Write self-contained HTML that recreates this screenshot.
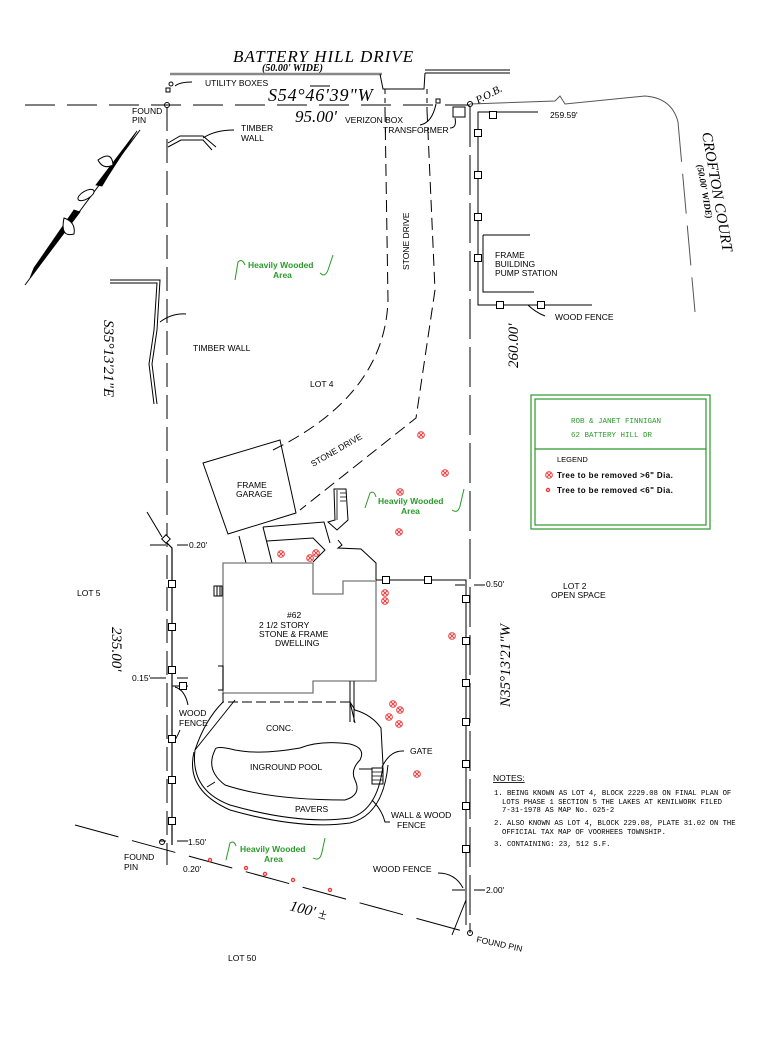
<!DOCTYPE html>
<html><head><meta charset="utf-8"><style>
html,body{margin:0;padding:0;background:#fff}
svg{display:block}
.t{font-family:"Liberation Sans",sans-serif;font-size:8.5px;fill:#000}
.g{font-family:"Liberation Sans",sans-serif;font-size:8.5px;fill:#2a9a2a;font-weight:bold}
.it{font-family:"Liberation Serif",serif;font-style:italic;fill:#000}
</style></head><body>
<svg width="782" height="1044" viewBox="0 0 782 1044" xmlns="http://www.w3.org/2000/svg">
<defs>
<g id="tb"><circle r="3.3" fill="none" stroke="#e33" stroke-width="1"/><path d="M-2,-2L2,2M-2,2L2,-2" stroke="#e33" stroke-width="0.9"/></g>
<g id="ts"><circle r="2.2" fill="#e33"/><circle r="0.9" fill="#fff"/></g>
<rect id="sq" x="-3.5" y="-3.5" width="7" height="7" fill="#fff" stroke="#000" stroke-width="1"/>
</defs>
<g fill="none" stroke="#000" stroke-width="1">
<!-- road -->
<line x1="170" y1="74" x2="382" y2="74" stroke="#888" stroke-width="2.5"/>
<line x1="425" y1="73" x2="510" y2="73"/>
<line x1="425" y1="70" x2="510" y2="70"/>
<path d="M380,74 L383,89 L424,89 L425,73"/>
<line x1="385" y1="89" x2="385" y2="110" stroke-dasharray="5,4"/>
<line x1="427" y1="89" x2="427" y2="110" stroke-dasharray="5,4"/>
<!-- top lot line -->
<line x1="25" y1="105" x2="470" y2="105" stroke-dasharray="30,12"/>
<path d="M470,104 L555,101 L560,96 L565,104 L645,96 Q672,98 678,122" stroke="#555"/>
<line x1="678" y1="122" x2="695" y2="312" stroke="#555" stroke-dasharray="40,12"/>
<circle cx="167" cy="105" r="2.5"/><circle cx="470" cy="104" r="2.5"/>
<circle cx="171" cy="84" r="2"/><rect x="166" y="88" width="4" height="4"/>
<path d="M175,86 Q180,82 192,82"/>
<!-- left boundary -->
<line x1="167" y1="107" x2="167" y2="865" stroke-dasharray="24,8"/>
<!-- right boundary -->
<line x1="470" y1="107" x2="470" y2="933" stroke-dasharray="40,8"/>
<!-- bottom -->
<line x1="75" y1="825" x2="470" y2="933" stroke-dasharray="45,14"/>
<circle cx="162" cy="842" r="2.5"/><circle cx="470" cy="933" r="2.5"/>
<!-- timber walls -->
<path d="M168,143 L180,136 L203,136 L216,147 M168,147 L181,140 L203,140 L212,150"/>
<path d="M203,138 Q215,130 234,130"/>
<path d="M110,280 L160,280 L157,330 L152,364 L157,404 M110,283 L157,283 L154,330 L149,364 L154,404"/>
<path d="M160,322 Q172,313 186,314"/>
<!-- verizon / transformer -->
<rect x="436" y="99" width="4" height="4"/>
<path d="M420,125 Q432,123 436,104"/>
<rect x="453" y="107" width="12" height="10"/>
<path d="M450,128 Q457,128 455,118"/>
<!-- stone drive -->
<path d="M385,110 L388,300 Q385,395 273,450" stroke-dasharray="12,6"/>
<path d="M427,110 L435,290 L416,418 L300,510" stroke-dasharray="12,6"/>
<!-- top-right fence / pump -->
<path d="M538,112 L478,112 L478,305 L592,305"/>
<path d="M483,235 L530,235 M483,235 L483,292 L534,292"/>
<path d="M528,305 Q535,312 545,316"/>
<!-- garage -->
<path d="M203,463 L280,440 L296,513 L228,534 Z"/>
<line x1="239" y1="536" x2="246" y2="563"/><line x1="263" y1="527" x2="272" y2="563"/>
<path d="M263,527 L324,522 L330,543 M267,541 L313,538 L325,550 L313,562"/>
<path d="M334,489 L346,489 L348,520 L337,530 L328,522 L335,520 Z" />
<path d="M337,490 L337,520 M340,493 L346,493 M340,497 L346,497 M340,501 L346,501" stroke-width="0.8"/>
<path d="M338,540 L342,545 L338,548 L361,549 L376,563 L376,580"/>
<!-- house -->
<path d="M223,563 L313,563 L313,594 L343,594 L343,581 L376,581 L376,681 L313,681 L313,693 L223,693 Z" stroke="#777" stroke-width="1.3"/>
<rect x="214" y="586" width="8" height="10"/>
<line x1="217" y1="586" x2="217" y2="596"/><line x1="220" y1="586" x2="220" y2="596"/>
<path d="M223,693 L223,702 L350,702 L350,681" stroke-dasharray="10,4"/>
<path d="M218,666 L223,666 L223,690 L218,690"/>
<!-- pool -->
<path d="M223,702 Q205,720 195,750 Q190,790 230,805 Q300,825 350,818 Q378,810 383,765 L381,728 Q372,715 355,710 L350,702"/>
<path d="M194,752 Q185,790 230,810 Q300,830 350,823 Q383,815 388,765"/>
<path d="M195,750 L235,700 M350,702 L355,723"/>
<path d="M215,750 Q205,770 225,785 Q270,800 345,800 Q362,795 355,780 Q350,770 360,760 Q366,748 350,744 Q320,740 300,748 Q260,755 235,750 Q215,745 215,750 Z"/>
<path d="M215,782 L207,787"/>
<path d="M350,681 L350,722 M354,681 L354,722"/>
<rect x="372" y="768" width="11" height="16"/>
<path d="M372,772 L383,772 M372,776 L383,776 M372,780 L383,780" stroke-width="0.7"/>
<path d="M359,769 L372,769 M382,767 Q390,750 404,751"/>
<path d="M372,800 Q382,810 385,822 L390,822"/>
<!-- left fence -->
<path d="M162,538 L172,548 L172,845" stroke-width="1.2"/>
<path d="M147,512 L162,537"/>
<path d="M172,686 L188,686"/>
<path d="M175,687 Q185,690 188,705 M180,730 Q178,735 175,740"/>
<line x1="150" y1="545" x2="166" y2="545"/><line x1="177" y1="545" x2="188" y2="545"/>
<line x1="150" y1="678" x2="166" y2="678"/><line x1="177" y1="678" x2="188" y2="678"/>
<line x1="160" y1="841" x2="166" y2="841"/><line x1="177" y1="841" x2="188" y2="841"/>
<!-- right fence -->
<path d="M376,580 L466,580 L466,925 M466,900 L452,935"/>
<line x1="455" y1="585" x2="465" y2="585"/><line x1="474" y1="585" x2="485" y2="585"/>
<line x1="452" y1="890" x2="465" y2="890"/><line x1="474" y1="890" x2="485" y2="890"/>
<path d="M438,873 Q455,873 463,888"/>
<!-- north arrow -->
<line x1="25" y1="285" x2="140" y2="130"/>
</g>
<g stroke="#000" stroke-width="0.8" fill="#000">
<polygon points="137,131 96,185 102,186 108,176"/>
<polygon points="30,278 80,212 74,210 34,268"/>
</g>
<g fill="#fff" stroke="#000" stroke-width="1">
<path d="M98,160 Q112,150 113,165 Q103,170 98,160Z"/>
<path d="M64,218 Q60,238 74,234 Q76,222 64,218Z"/>
<ellipse cx="86" cy="195" rx="9" ry="4" transform="rotate(-30 86 195)"/>
</g>
<!-- squares -->
<g>
<use href="#sq" x="172" y="584"/><use href="#sq" x="172" y="627"/><use href="#sq" x="172" y="670"/>
<use href="#sq" x="183" y="686"/><use href="#sq" x="172" y="739"/><use href="#sq" x="172" y="780"/><use href="#sq" x="172" y="821"/>
<use href="#sq" x="466" y="599"/><use href="#sq" x="466" y="641"/><use href="#sq" x="466" y="683"/><use href="#sq" x="466" y="722"/><use href="#sq" x="466" y="764"/><use href="#sq" x="466" y="806"/><use href="#sq" x="466" y="849"/>
<use href="#sq" x="386" y="580"/><use href="#sq" x="428" y="580"/>
<use href="#sq" x="493" y="115"/><use href="#sq" x="478" y="133"/><use href="#sq" x="478" y="175"/><use href="#sq" x="478" y="217"/><use href="#sq" x="478" y="258"/>
<use href="#sq" x="500" y="305"/><use href="#sq" x="541" y="305"/>
<rect x="163" y="536" width="6" height="6" fill="#fff" stroke="#000" transform="rotate(45 166 539)"/>
</g>
<!-- trees -->
<g>
<use href="#tb" x="421" y="435"/><use href="#tb" x="445" y="473"/><use href="#tb" x="400" y="492"/><use href="#tb" x="399" y="532"/>
<use href="#tb" x="281" y="554"/><use href="#tb" x="310" y="558"/><use href="#tb" x="316" y="553"/>
<use href="#tb" x="385" y="593"/><use href="#tb" x="385" y="601"/><use href="#tb" x="452" y="636"/>
<use href="#tb" x="393" y="704"/><use href="#tb" x="400" y="710"/><use href="#tb" x="389" y="717"/><use href="#tb" x="399" y="724"/>
<use href="#tb" x="417" y="774"/>
<use href="#ts" x="210" y="860"/><use href="#ts" x="246" y="868"/><use href="#ts" x="265" y="874"/><use href="#ts" x="293" y="880"/><use href="#ts" x="330" y="890"/>
</g>
<!-- legend box -->
<rect x="531" y="395" width="179" height="134" fill="none" stroke="#2a9a2a" stroke-width="1.2"/>
<rect x="535" y="399" width="171" height="126" fill="none" stroke="#2a9a2a" stroke-width="1.2"/>
<line x1="535" y1="449" x2="706" y2="449" stroke="#2a9a2a" stroke-width="1.2"/>
<text x="571" y="423" style="font-family:'Liberation Mono',monospace;font-size:7.5px;fill:#2a9a2a">ROB &amp; JANET FINNIGAN</text>
<text x="571" y="437" style="font-family:'Liberation Mono',monospace;font-size:7.5px;fill:#2a9a2a">62 BATTERY HILL DR</text>
<text x="557" y="462" class="t" style="font-size:7.5px">LEGEND</text>
<use href="#tb" x="549" y="475"/><use href="#ts" x="548" y="490"/>
<text x="557" y="478" class="t" style="font-size:8px;font-weight:bold;letter-spacing:0.4px">Tree  to  be  removed  &gt;6"  Dia.</text>
<text x="557" y="493" class="t" style="font-size:8px;font-weight:bold;letter-spacing:0.4px">Tree  to  be  removed  &lt;6"  Dia.</text>
<!-- green wooded marks -->
<g fill="none" stroke="#2a9a2a" stroke-width="1">
<path d="M235,280 L238,262 Q242,258 245,265 M320,273 Q325,278 328,270 L333,255"/>
<path d="M365,508 L370,493 Q374,490 376,497 M452,510 Q458,514 460,506 L464,489"/>
<path d="M226,860 L230,843 Q234,840 236,846 M313,858 Q320,862 322,852 L325,838"/>
</g>
<text x="248" y="268" class="g">Heavily Wooded</text><text x="273" y="278" class="g">Area</text>
<text x="378" y="504" class="g">Heavily Wooded</text><text x="401" y="514" class="g">Area</text>
<text x="240" y="852" class="g">Heavily Wooded</text><text x="264" y="862" class="g">Area</text>
<!-- italic labels -->
<text x="233" y="62" class="it" font-size="17" letter-spacing="1">BATTERY  HILL  DRIVE</text>
<text x="262" y="71" class="it" font-size="10" font-weight="bold">(50.00'  WIDE)</text>
<text x="268" y="101" class="it" font-size="18" letter-spacing="0.8">S54°46'39"W</text>
<line x1="310" y1="86" x2="330" y2="86" stroke="#000"/>
<text x="295" y="122" class="it" font-size="17">95.00'</text>
<text x="478" y="104" class="it" font-size="11" transform="rotate(-28 478 104)">P.O.B.</text>
<text x="702" y="133" class="it" font-size="15" transform="rotate(80 702 133)">CROFTON  COURT</text>
<text x="697" y="165" class="it" font-size="9" font-weight="bold" transform="rotate(80 697 165)">(50.00'  WIDE)</text>
<text x="518" y="368" class="it" font-size="15" transform="rotate(-90 518 368)">260.00'</text>
<text x="104" y="320" class="it" font-size="15" transform="rotate(90 104 320)">S35°13'21"E</text>
<text x="112" y="627" class="it" font-size="15" transform="rotate(90 112 627)">235.00'</text>
<text x="510" y="707" class="it" font-size="15" transform="rotate(-90 510 707)">N35°13'21"W</text>
<text x="289" y="910" class="it" font-size="15" transform="rotate(15 289 910)">100' ±</text>
<!-- black labels -->
<g class="t">
<text x="205" y="86" class="t">UTILITY  BOXES</text>
<text x="132" y="114" class="t">FOUND</text><text x="132" y="123" class="t">PIN</text>
<text x="241" y="131" class="t">TIMBER</text><text x="241" y="141" class="t">WALL</text>
<text x="345" y="123" class="t">VERIZON  BOX</text>
<text x="383" y="133" class="t">TRANSFORMER</text>
<text x="495" y="258" class="t">FRAME</text><text x="495" y="267" class="t">BUILDING</text><text x="495" y="276" class="t">PUMP  STATION</text>
<text x="555" y="320" class="t">WOOD  FENCE</text>
<text x="550" y="118" class="t">259.59'</text>
<text x="193" y="351" class="t">TIMBER  WALL</text>
<text x="310" y="387" class="t">LOT  4</text>
<text x="409" y="270" class="t" transform="rotate(-90 409 270)">STONE  DRIVE</text>
<text x="313" y="467" class="t" transform="rotate(-30 313 467)">STONE  DRIVE</text>
<text x="237" y="488" class="t">FRAME</text><text x="236" y="497" class="t">GARAGE</text>
<text x="189" y="548" class="t">0.20'</text>
<text x="77" y="596" class="t">LOT  5</text>
<text x="287" y="618" class="t">#62</text>
<text x="259" y="628" class="t">2  1/2  STORY</text>
<text x="259" y="637" class="t">STONE  &amp;  FRAME</text>
<text x="275" y="646" class="t">DWELLING</text>
<text x="132" y="681" class="t">0.15'</text>
<text x="179" y="716" class="t">WOOD</text><text x="179" y="726" class="t">FENCE</text>
<text x="266" y="731" class="t">CONC.</text>
<text x="250" y="770" class="t">INGROUND  POOL</text>
<text x="295" y="812" class="t">PAVERS</text>
<text x="410" y="754" class="t">GATE</text>
<text x="391" y="818" class="t">WALL  &amp;  WOOD</text>
<text x="397" y="828" class="t">FENCE</text>
<text x="188" y="845" class="t">1.50'</text>
<text x="124" y="860" class="t">FOUND</text><text x="124" y="870" class="t">PIN</text>
<text x="183" y="872" class="t">0.20'</text>
<text x="373" y="872" class="t">WOOD  FENCE</text>
<text x="486" y="893" class="t">2.00'</text>
<text x="476" y="942" class="t" transform="rotate(12 476 942)">FOUND  PIN</text>
<text x="228" y="961" class="t">LOT  50</text>
<text x="486" y="587" class="t">0.50'</text>
<text x="563" y="589" class="t">LOT  2</text><text x="551" y="598" class="t">OPEN  SPACE</text>
<text x="493" y="781" class="t" style="text-decoration:underline">NOTES:</text>
</g>
<g style="font-family:'Liberation Mono',monospace;font-size:7.2px;fill:#000">
<text x="494" y="795">1. BEING KNOWN AS LOT 4, BLOCK 2229.08 ON FINAL PLAN OF</text>
<text x="502" y="804">LOTS PHASE 1 SECTION 5  THE LAKES AT KENILWORK FILED</text>
<text x="502" y="812">7-31-1978 AS MAP No. 625-2</text>
<text x="494" y="825">2. ALSO KNOWN AS LOT 4, BLOCK 229.08, PLATE 31.02 ON THE</text>
<text x="502" y="834">OFFICIAL TAX MAP OF VOORHEES TOWNSHIP.</text>
<text x="494" y="846">3. CONTAINING: 23, 512 S.F.</text>
</g>
</svg>
</body></html>
